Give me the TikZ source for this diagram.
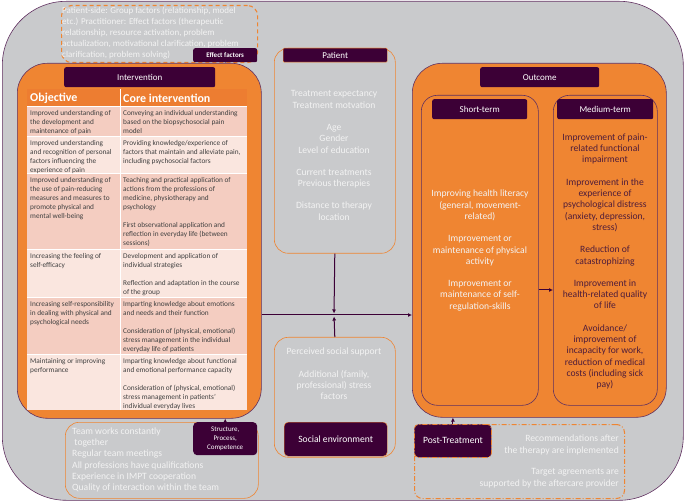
\documentclass[tikz,border=0pt]{standalone}
\usepackage{fontspec}
\setmainfont{Carlito}
\usetikzlibrary{positioning,arrows.meta}
\definecolor{bggray}{RGB}{201,202,204}
\definecolor{frame}{RGB}{96,48,96}
\definecolor{orangebox}{RGB}{239,133,50}
\definecolor{plum}{RGB}{60,0,54}
\definecolor{headorange}{RGB}{237,125,49}
\definecolor{rowdark}{RGB}{244,205,193}
\definecolor{rowlight}{RGB}{250,230,223}
\definecolor{celltext}{RGB}{64,64,64}
\definecolor{softwhite}{RGB}{243,243,243}
\definecolor{darktext}{RGB}{78,28,58}
\tikzset{
  panel/.style={
    draw=frame,
    fill=orangebox,
    line width=0.6pt,
    rounded corners=30pt,
    anchor=north west,
    inner sep=0pt
  },
  subpanel/.style={
    panel,
    rounded corners=16pt
  },
  hollow/.style={
    draw=orangebox,
    line width=0.6pt,
    rounded corners=14pt,
    anchor=north west,
    inner sep=0pt
  },
}
\tikzset{
  tagbox/.style={
    fill=plum,
    text=white,
    rounded corners=2pt,
    anchor=north west,
    inner sep=0pt,
    align=center,
    font=\fontsize{9}{11}\selectfont
  },
  smalltag/.style={
    tagbox,
    font=\fontsize{7}{9}\selectfont
  },
  info/.style={
    text=softwhite,
    align=center,
    inner sep=0pt,
    font=\fontsize{9.6}{11.3}\selectfont
  },
  cell/.style={
    anchor=north west,
    align=left,
    inner sep=0pt,
    text=celltext,
    font=\fontsize{7.3}{9}\selectfont
  },
  headcell/.style={
    anchor=west,
    inner sep=0pt,
    text=white,
    font=\fontsize{12}{14}\selectfont\bfseries
  },
  link/.style={
    draw=plum,
    line width=1pt,
    -{Latex[length=4pt,width=4pt]}
  },
  dashdot/.style={
    dash pattern=on 5pt off 2pt on 1pt off 2pt
  }
}

\begin{document}
\begin{tikzpicture}[x=1pt,y=-1pt]
\useasboundingbox (0,0) rectangle (685,502);
\node[panel, fill=bggray, rounded corners=64pt, minimum width=681pt, minimum height=499pt] (bg) at (2,1) {};

% effect factors
\node[hollow, dashed, dash pattern=on 4pt off 3pt, line width=1.1pt, rounded corners=10pt, minimum width=196pt, minimum height=57pt] (effbox) at (61,5) {};
\node[info, align=left, anchor=west, font=\fontsize{9}{11}\selectfont] (efftext) at (62,33) {Patient-side: Group factors (relationship, model\\etc.) Practitioner: Effect factors (therapeutic\\relationship, resource activation, problem\\actualization, motivational clarification, problem\\clarification, problem solving)};
\node[smalltag, font=\fontsize{7}{9}\selectfont\bfseries, minimum width=64pt, minimum height=14pt] (efftag) at (193,48) {Effect factors};

% intervention
\node[panel, minimum width=244pt, minimum height=355pt] (interv) at (17,63) {};
\node[tagbox, minimum width=151pt, minimum height=20pt] (intervtag) at (64,67) {Intervention};
\fill[headorange] (27,89) rectangle (247,106);
\foreach \top/\bot/\shade in {106/136/rowdark,136/173/rowlight,173/249/rowdark,249/297/rowlight,297/354/rowdark,354/410/rowlight}
  \fill[\shade] (27,\top) rectangle (247,\bot);
\foreach \y in {106,136,173,249,297,354}
  \draw[white, line width=0.5pt] (27,\y) -- (247,\y);
\draw[white, line width=0.8pt] (120,89) -- (120,410);
\node[headcell] (objhead) at (30,98) {Objective};
\node[headcell] (corehead) at (123,98) {Core intervention};
\foreach \i/\top/\obj/\core in {
  1/106/{Improved understanding of\\the development and\\maintenance of pain}/{Conveying an individual understanding\\based on the biopsychosocial pain\\model},
  2/136/{Improved understanding\\and recognition of personal\\factors influencing the\\experience of pain}/{Providing knowledge/experience of\\factors that maintain and alleviate pain,\\including psychosocial factors},
  3/173/{Improved understanding of\\the use of pain-reducing\\measures and measures to\\promote physical and\\mental well-being}/{Teaching and practical application of\\actions from the professions of\\medicine, physiotherapy and\\psychology\\[9pt]First observational application and\\reflection in everyday life (between\\sessions)},
  4/249/{Increasing the feeling of\\self-efficacy}/{Development and application of\\individual strategies\\[9pt]Reflection and adaptation in the course\\of the group},
  5/297/{Increasing self-responsibility\\in dealing with physical and\\psychological needs}/{Imparting knowledge about emotions\\and needs and their function\\[9pt]Consideration of (physical, emotional)\\stress management in the individual\\everyday life of patients},
  6/354/{Maintaining or improving\\performance}/{Imparting knowledge about functional\\and emotional performance capacity\\[9pt]Consideration of (physical, emotional)\\stress management in patients'\\individual everyday lives}}{
  \node[cell] (obj\i) at (30,\top+4) {\obj};
  \node[cell] (core\i) at (123,\top+4) {\core};
}

% patient and social environment
\node[hollow, minimum width=121pt, minimum height=205pt] (patient) at (274,48) {};
\node[tagbox, draw=orangebox, line width=0.4pt, rounded corners=1pt, minimum width=104pt, minimum height=14pt] (patienttag) at (283,48) {Patient};
\node[info] (patienttext) at (334,155.5) {Treatment expectancy\\Treatment motvation\\[11pt]Age\\Gender\\Level of education\\[11pt]Current treatments\\Previous therapies\\[11pt]Distance to therapy\\location};
\node[hollow, minimum width=121pt, minimum height=120pt] (social) at (274,337) {};
\node[tagbox, draw=orangebox, line width=0.4pt, rounded corners=4pt, minimum width=103pt, minimum height=34pt, font=\fontsize{9.6}{11}\selectfont] (socialtag) at (284,422) {Social environment};
\node[info] (socialtext) at (334,374) {Perceived social support\\[11pt]Additional (family,\\professional) stress\\factors};

% outcome
\node[panel, minimum width=254pt, minimum height=354pt] (outcome) at (412,63) {};
\node[tagbox, minimum width=119pt, minimum height=20pt] (outcometag) at (480,67) {Outcome};
\node[subpanel, minimum width=117pt, minimum height=310pt] (short) at (421,95) {};
\node[tagbox, minimum width=95pt, minimum height=20pt] (shorttag) at (432,99) {Short-term};
\node[subpanel, minimum width=104pt, minimum height=310pt] (medium) at (553,95) {};
\node[tagbox, minimum width=96pt, minimum height=20pt] (mediumtag) at (557,99) {Medium-term};
\node[info] (shorttext) at (480,250.5) {Improving health literacy\\(general, movement-\\related)\\[11pt]Improvement or\\maintenance of physical\\activity\\[11pt]Improvement or\\maintenance of self-\\regulation-skills};
\node[info, text=darktext] (mediumtext) at (605,261.5) {Improvement of pain-\\related functional\\impairment\\[11pt]Improvement in the\\experience of\\psychological distress\\(anxiety, depression,\\stress)\\[11pt]Reduction of\\catastrophizing\\[11pt]Improvement in\\health-related quality\\of life\\[11pt]Avoidance/\\improvement of\\incapacity for work,\\reduction of medical\\costs (including sick\\pay)};

% post-treatment
\node[hollow, dashdot, line width=1pt, rounded corners=8pt, minimum width=210pt, minimum height=74pt] (postbox) at (414,424) {};
\node[tagbox, draw=orangebox, dashdot, line width=0.8pt, rounded corners=4pt, minimum width=77pt, minimum height=33pt, font=\fontsize{9.6}{11}\selectfont] (posttag) at (414,424) {Post-Treatment};
\node[info, align=right, anchor=east, font=\fontsize{9.6}{12}\selectfont] (posttext) at (619,461.5) {Recommendations after\\the therapy are implemented\\[9pt]Target agreements are\\supported by the aftercare provider};

% structure
\node[hollow, minimum width=193pt, minimum height=76pt] (structbox) at (65,422) {};
\node[smalltag, rounded corners=4pt, minimum width=64pt, minimum height=33pt] (structtag) at (193,422) {Structure,\\Process,\\Competence};
\node[info, align=left, anchor=west, font=\fontsize{9.6}{11.2}\selectfont] (structtext) at (72,460) {Team works constantly\\~together\\Regular team meetings\\All professions have qualifications\\Experience in IMPT cooperation\\Quality of interaction within the team};

% connectors
\coordinate (J) at (334,315);
\coordinate (sm) at (545,290);
\draw[link] (interv.east |- J) -- (outcome.west |- J);
\draw[link, shorten >=1.5pt] (patient.south) -- (J);
\draw[link, shorten >=1.5pt] (social.north) -- (J);
\draw[link] (short.east |- sm) -- (medium.west |- sm);
\draw[link] (efftag.south) -- (efftag.south |- interv.north);
\draw[link] (structtag.north) -- (structtag.north |- interv.south);
\draw[link] (posttag.north) -- (posttag.north |- outcome.south);
\end{tikzpicture}
\end{document}
